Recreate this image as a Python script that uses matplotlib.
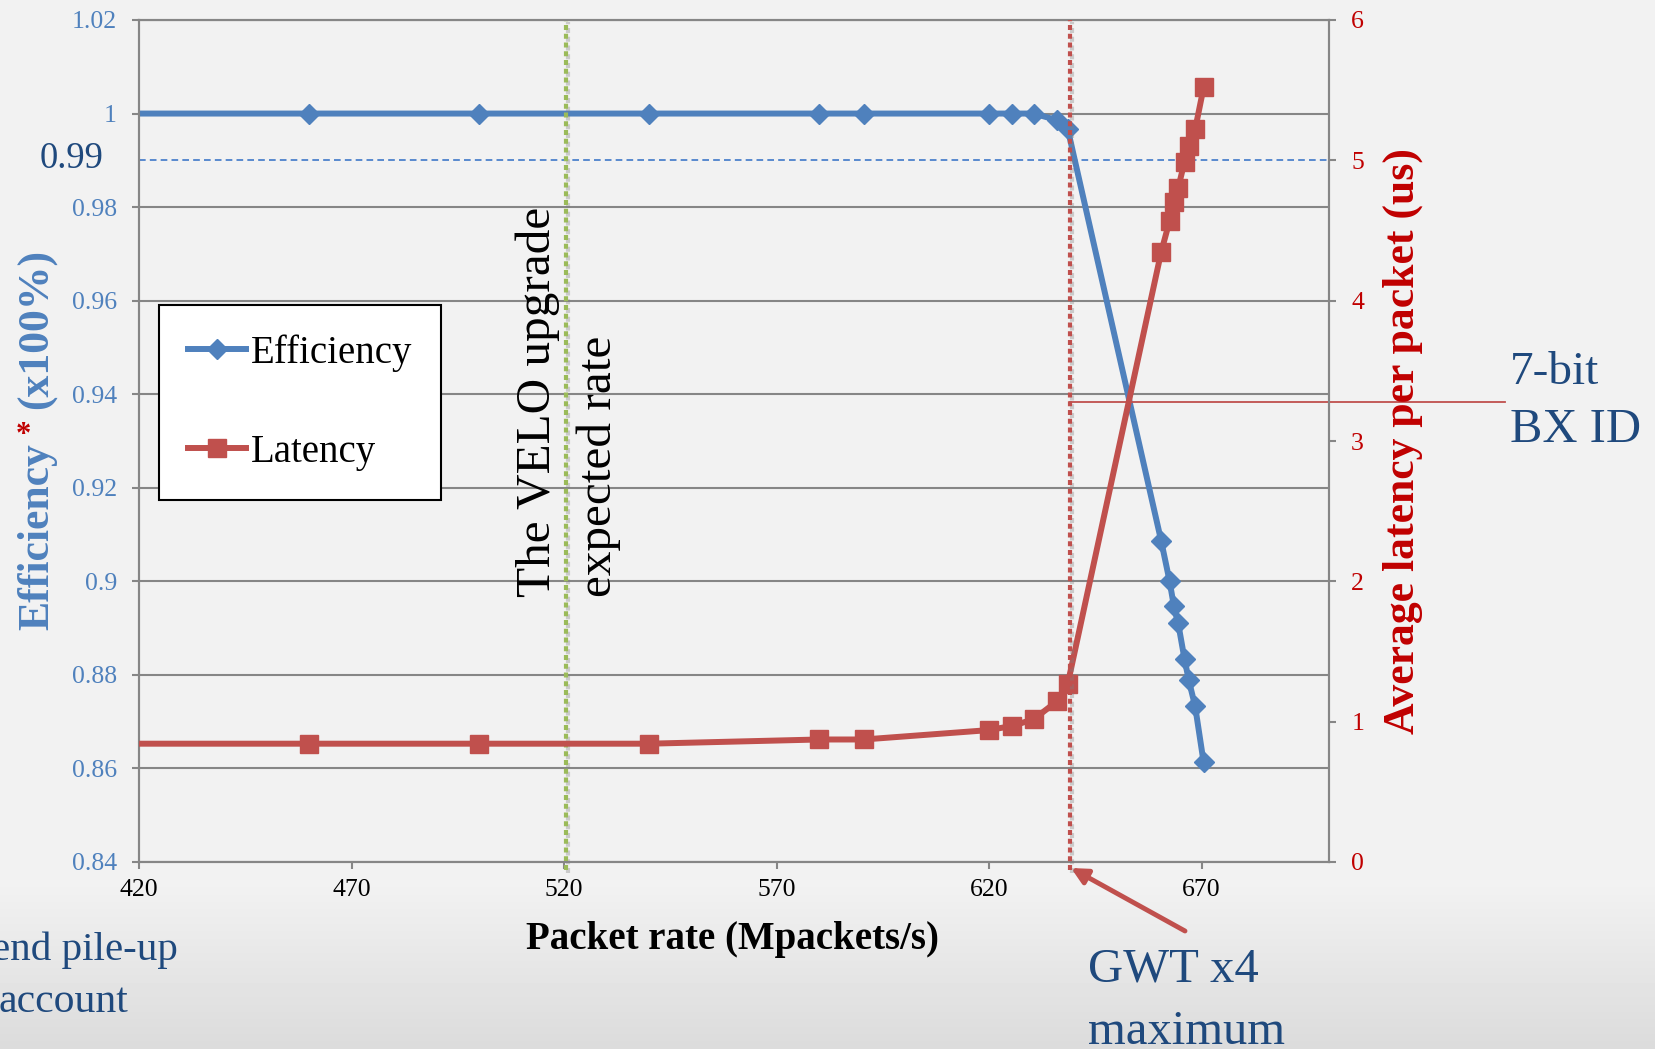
import numpy as np
import matplotlib
matplotlib.use("Agg")
import matplotlib.pyplot as plt
import matplotlib.patheffects as pe
from matplotlib.lines import Line2D

W, H = 1656, 1049
SERIF = ["Liberation Serif", "DejaVu Serif"]
plt.rcParams.update({"font.family": SERIF, "figure.dpi": 100})

# ---- data ----
rate = [400, 460, 500, 540, 580, 590.5, 620, 625.5, 630.5, 636, 638.5,
        660.5, 662.5, 663.5, 664.5, 666, 667, 668.5, 670.5]
efficiency = [1.0, 1.0, 1.0, 1.0, 1.0, 1.0, 1.0, 1.0, 1.0, 0.9986, 0.9968,
              0.9087, 0.9, 0.8947, 0.8911, 0.8834, 0.8789, 0.8733, 0.8613]
latency = [0.843, 0.843, 0.843, 0.843, 0.873, 0.873, 0.94, 0.97, 1.017, 1.145, 1.265,
           4.345, 4.57, 4.70, 4.80, 4.99, 5.105, 5.22, 5.52]

eff_ticks = [0.84, 0.86, 0.88, 0.9, 0.92, 0.94, 0.96, 0.98, 1.0, 1.02]
eff_labels = ["0.84", "0.86", "0.88", "0.9", "0.92", "0.94", "0.96", "0.98", "1", "1.02"]
lat_ticks = [0, 1, 2, 3, 4, 5, 6]
x_ticks = [420, 470, 520, 570, 620, 670]

EFF_TARGET = 0.99       # dashed reference level
VELO_RATE = 520.5       # green marker line
GWT_MAX_RATE = 639      # red marker line
BXID_LATENCY = 3.28     # 7-bit BX ID level
BXID_X_END = 741.5

BLUE, RED, GREEN = "#4F81BD", "#C0504D", "#9BBB59"
NAVY, DARKRED, GRAY = "#1F497D", "#C00000", "#868686"


def fp(x, y):
    """full-size pixel coords -> figure fraction"""
    return x / W, 1 - y / H


fig = plt.figure(figsize=(W / 100, H / 100), facecolor="#F2F2F2")

# background gradient at the bottom of the slide
bg = fig.add_axes([0, 0, 1, 1], zorder=-10)
rows = np.arange(H)
shade = np.where(rows < 880, 0.949, 0.949 - (rows - 880) / (H - 880) * 0.09)
bg.imshow(shade[:, None], cmap="gray", vmin=0, vmax=1, aspect="auto", extent=[0, 1, 0, 1])
bg.axis("off")

ax = fig.add_axes([139 / W, 1 - 862 / H, (1329 - 139) / W, (862 - 20) / H])
ax.patch.set_alpha(0)
ax2 = ax.twinx()

ax.set_xlim(420, 700)
ax.set_ylim(0.84, 1.02)
ax2.set_ylim(0, 6)
ax.set_xticks(x_ticks)
ax.set_xticklabels([str(t) for t in x_ticks])
ax.set_yticks(eff_ticks)
ax.set_yticklabels(eff_labels)
ax2.set_yticks(lat_ticks)
ax2.set_yticklabels([str(t) for t in lat_ticks])

ax.grid(axis="y", color=GRAY, lw=1.5)
ax.grid(axis="x", visible=False)
for a in (ax, ax2):
    for s in a.spines.values():
        s.set_color(GRAY)
        s.set_linewidth(1.5)
ax.tick_params(axis="y", length=5, width=1.5, color=GRAY, labelcolor=BLUE, labelsize=18.5, pad=11)
ax.tick_params(axis="x", length=5, width=1.5, color=GRAY, labelcolor="black", labelsize=18.5, pad=7)
ax2.tick_params(axis="y", length=5, width=1.5, color=GRAY, labelcolor=DARKRED, labelsize=18.5, pad=11)

# 0.99 dashed reference
ax.axhline(EFF_TARGET, color="#3F78C8", lw=1.2, ls=(0, (4, 2.5)), zorder=1)

# curves
ax.plot(rate, efficiency, color=BLUE, lw=4.3, marker="D", ms=10, zorder=3)
ax2.plot(rate, latency, color=RED, lw=4.3, marker="s", ms=13, zorder=3)

# vertical dotted markers
shadow = [pe.SimpleLineShadow(offset=(1.5, -1.5), shadow_color="gray", alpha=0.35), pe.Normal()]
ax2.plot([VELO_RATE, VELO_RATE], [-0.06, 6], color=GREEN, lw=3, ls=(0, (1.2, 0.9)),
         clip_on=False, zorder=2, path_effects=shadow)
ax2.plot([GWT_MAX_RATE, GWT_MAX_RATE], [-0.06, 6], color=RED, lw=3, ls=(0, (1.2, 0.9)),
         clip_on=False, zorder=4, path_effects=shadow)

# 7-bit BX ID line
ax2.plot([GWT_MAX_RATE, BXID_X_END], [BXID_LATENCY, BXID_LATENCY], color=RED, lw=1.3,
         clip_on=False, zorder=2)

# legend
handles = [Line2D([], [], color=BLUE, lw=4.3, marker="D", ms=10),
           Line2D([], [], color=RED, lw=4.3, marker="s", ms=13)]
leg = ax2.legend(handles, ["Efficiency", "Latency"], loc="upper left",
                 bbox_to_anchor=(0.0168, 0.6615), fontsize=28, frameon=True, fancybox=False,
                 framealpha=1, edgecolor="black", handlelength=1.5, handletextpad=0.1,
                 borderpad=0.75, labelspacing=1.6, borderaxespad=0)
leg.get_frame().set_linewidth(1.5)
leg.set_zorder(10)

# axis titles
fig.text(*fp(37, 630), "Efficiency", rotation=90, ha="center", va="bottom",
         color=BLUE, fontsize=31.5, fontweight="bold")
fig.text(*fp(23, 435), "*", ha="center", va="center", color="#C00000",
         fontsize=22, fontweight="bold")
fig.text(*fp(37, 409), "(x100%)", rotation=90, ha="center", va="bottom",
         color=BLUE, fontsize=31.5, fontweight="bold")
fig.text(*fp(1403, 441), "Average latency per packet (us)", rotation=90, ha="center",
         va="center", color=DARKRED, fontsize=31.5, fontweight="bold")
fig.text(*fp(733, 940), "Packet rate (Mpackets/s)", ha="center", va="center",
         color="black", fontsize=28, fontweight="bold")

fig.text(*fp(104, 159), "0.99", ha="right", va="center", color=NAVY, fontsize=26.5)

# slide annotations
fig.text(*fp(538, 597), "The VELO upgrade", rotation=90, ha="center", va="bottom",
         color="black", fontsize=35.5)
fig.text(*fp(599, 597), "expected rate", rotation=90, ha="center", va="bottom",
         color="black", fontsize=35.5)
fig.text(*fp(1510, 373), "7-bit", ha="left", va="center", color=NAVY, fontsize=34)
fig.text(*fp(1510, 430), "BX ID", ha="left", va="center", color=NAVY, fontsize=35)
fig.text(*fp(1088, 969), "GWT x4", ha="left", va="center", color=NAVY, fontsize=35)
fig.text(*fp(1088, 1032), "maximum", ha="left", va="center", color=NAVY, fontsize=35)
fig.text(*fp(178, 950), "end pile-up", ha="right", va="center", color=NAVY, fontsize=29.5)
fig.text(*fp(128, 1002), "account", ha="right", va="center", color=NAVY, fontsize=30)

ax.annotate("", xy=(1071, H - 868), xycoords="figure pixels",
            xytext=(1185, H - 931), textcoords="figure pixels",
            arrowprops=dict(arrowstyle="-|>", color=RED, lw=3.5, mutation_scale=24,
                            shrinkA=0, shrinkB=0), annotation_clip=False)

fig.savefig("out.png", dpi=100, facecolor=fig.get_facecolor())
